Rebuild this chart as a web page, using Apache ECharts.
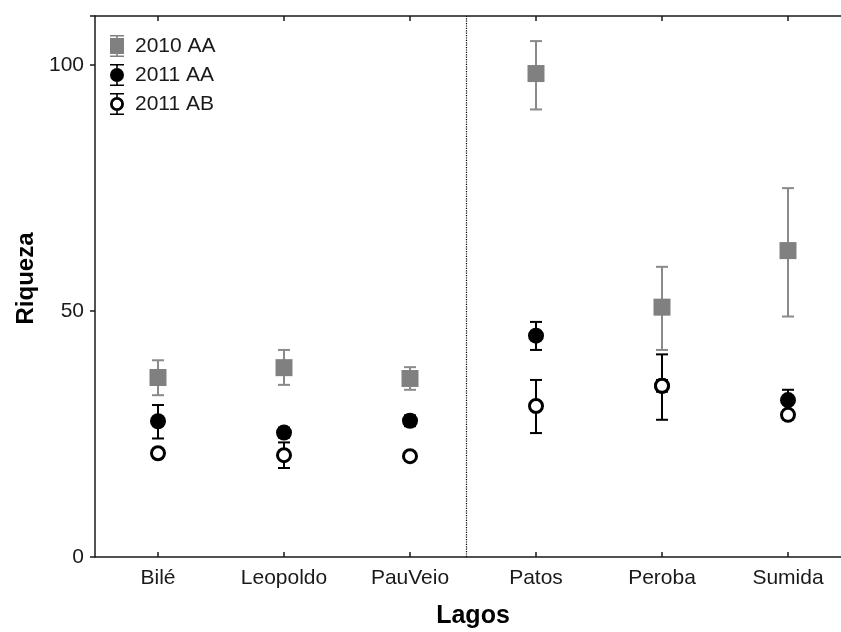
<!DOCTYPE html>
<html>
<head>
<meta charset="utf-8">
<script src="https://cdn.jsdelivr.net/npm/echarts@6/dist/echarts.min.js"></script>
<style>
html,body{margin:0;padding:0;background:#fff;}
#chart{width:841px;height:632px;}
</style>
</head>
<body>
<div id="chart"></div>
<script>
// ---- data ----
var categories = ['Bilé', 'Leopoldo', 'PauVeio', 'Patos', 'Peroba', 'Sumida'];
var catPositions = [1, 2, 3, 4, 5, 6];

var mean2010AA = [36.5, 38.5, 36.3, 98.3, 50.8, 62.3];
var low2010AA  = [32.9, 35.0, 34.0, 91.0, 42.1, 48.9];
var high2010AA = [40.0, 42.1, 38.6, 104.9, 59.0, 75.0];

var mean2011AA = [27.6, 25.3, 27.7, 45.0, 34.8, 31.9];
var low2011AA  = [24.1, 24.3, 26.6, 42.1, 33.6, 29.8];
var high2011AA = [30.9, 26.3, 28.8, 47.8, 36.0, 34.0];

var mean2011AB = [21.1, 20.7, 20.5, 30.7, 34.8, 28.9];
var low2011AB  = [20.2, 18.1, 19.7, 25.2, 27.9, 28.0];
var high2011AB = [22.0, 23.3, 21.3, 36.0, 41.2, 29.8];

var seriesNames = ['2010 AA', '2011 AA', '2011 AB'];
var yTicks = [0, 50, 100];
var dividerX = 3.45;

// ---- styling ----
var GRAY = '#808080';
var GRAY_BAR = '#8a8a8a';
var BLACK = '#000000';
var FONT = '"Liberation Sans", Arial, sans-serif';

function pts(means) { return catPositions.map(function (x, i) { return [x, means[i]]; }); }
function bars(lo, hi) { return catPositions.map(function (x, i) { return [x, lo[i], hi[i]]; }); }

function errRender(color) {
  return function (params, api) {
    var x = api.value(0), lo = api.value(1), hi = api.value(2);
    var a = api.coord([x, lo]), b = api.coord([x, hi]);
    var hw = 6;
    var st = { stroke: color, lineWidth: 2 };
    return {
      type: 'group',
      children: [
        { type: 'line', shape: { x1: a[0], y1: a[1], x2: b[0], y2: b[1] }, style: st },
        { type: 'line', shape: { x1: a[0] - hw, y1: a[1], x2: a[0] + hw, y2: a[1] }, style: st },
        { type: 'line', shape: { x1: b[0] - hw, y1: b[1], x2: b[0] + hw, y2: b[1] }, style: st }
      ]
    };
  };
}

var capsPath = 'M2 0 H16 V1.6 H2 Z M2 20.4 H16 V22 H2 Z ';
var icon2010 = 'path://' + capsPath + 'M8.2 0 H9.8 V22 H8.2 Z M2 3 H16 V19 H2 Z';
var iconAA = 'path://' + capsPath + 'M8.2 0 H9.8 V22 H8.2 Z M2 11 A7 7 0 1 1 16 11 A7 7 0 1 1 2 11 Z';
var iconAB = 'path://' + capsPath + 'M8.2 0 H9.8 V4.6 H8.2 Z M8.2 17.4 H9.8 V22 H8.2 Z ' +
  'M2 11 A7 7 0 1 1 16 11 A7 7 0 1 1 2 11 Z M4.8 11 A4.2 4.2 0 1 0 13.2 11 A4.2 4.2 0 1 0 4.8 11 Z';

var chart = echarts.init(document.getElementById('chart'), null, { renderer: 'canvas' });

var xCommon = {
  type: 'value', min: 0.5, max: 6.5,
  splitLine: { show: false },
  axisLine: { show: true, onZero: false, lineStyle: { color: '#1a1a1a', width: 1.5 } }
};

chart.setOption({
  animation: false,
  backgroundColor: '#fff',
  textStyle: { fontFamily: FONT },
  grid: { left: 95, width: 756, top: 16, bottom: 75, containLabel: false, outerBoundsMode: 'none' },
  legend: {
    left: 105, top: 30, orient: 'vertical',
    itemWidth: 26, itemHeight: 22, itemGap: 7,
    textStyle: { fontSize: 21, color: '#1a1a1a', fontFamily: FONT },
    itemStyle: { borderWidth: 0 },
    data: [
      { name: seriesNames[0], icon: icon2010, itemStyle: { color: GRAY, borderWidth: 0 } },
      { name: seriesNames[1], icon: iconAA, itemStyle: { color: BLACK, borderWidth: 0 } },
      { name: seriesNames[2], icon: iconAB, itemStyle: { color: BLACK, borderWidth: 0 } }
    ]
  },
  xAxis: [
    Object.assign({}, xCommon, {
      position: 'bottom',
      name: 'Lagos', nameLocation: 'middle', nameGap: 47,
      nameTextStyle: { fontSize: 25, fontWeight: 'bold', color: '#000', fontFamily: FONT },
      axisTick: { show: true, inside: true, length: 5, customValues: catPositions, lineStyle: { color: '#1a1a1a', width: 1.5 } },
      axisLabel: {
        show: true, margin: 11, fontSize: 21, color: '#1a1a1a', fontFamily: FONT,
        customValues: catPositions,
        formatter: function (v) { return categories[Math.round(v) - 1] || ''; }
      }
    }),
    Object.assign({}, xCommon, {
      position: 'top',
      axisTick: { show: true, inside: true, length: 5, customValues: catPositions, lineStyle: { color: '#1a1a1a', width: 1.5 } },
      axisLabel: { show: false }
    })
  ],
  yAxis: {
    type: 'value', min: 0, max: 110, interval: 50,
    splitLine: { show: false },
    name: 'Riqueza', nameLocation: 'middle', nameGap: 57,
    nameTextStyle: { fontSize: 24, fontWeight: 'bold', color: '#000', fontFamily: FONT, padding: [0, 0, 0, 16] },
    axisLine: { show: true, lineStyle: { color: '#1a1a1a', width: 1.5 } },
    axisTick: { show: true, inside: false, length: 5, lineStyle: { color: '#1a1a1a', width: 1.5 } },
    axisLabel: {
      margin: 11, fontSize: 21, color: '#1a1a1a', fontFamily: FONT,
      formatter: function (v) { return yTicks.indexOf(v) >= 0 ? String(v) : ''; }
    }
  },
  series: [
    {
      name: 'divider', type: 'scatter', data: [], silent: true,
      markLine: {
        silent: true, symbol: 'none', animation: false,
        label: { show: false },
        lineStyle: { color: '#000', type: 'dotted', width: 1.2 },
        data: [{ xAxis: dividerX }]
      }
    },
    {
      name: 'err2010', type: 'custom', renderItem: errRender(GRAY_BAR),
      data: bars(low2010AA, high2010AA), encode: { x: 0, y: [1, 2] }, silent: true, z: 2
    },
    {
      name: seriesNames[0], type: 'scatter', symbol: 'rect', symbolSize: 17,
      data: pts(mean2010AA), itemStyle: { color: GRAY, opacity: 1 }, z: 3, silent: true
    },
    {
      name: 'errAA', type: 'custom', renderItem: errRender(BLACK),
      data: bars(low2011AA, high2011AA), encode: { x: 0, y: [1, 2] }, silent: true, z: 4
    },
    {
      name: seriesNames[1], type: 'scatter', symbol: 'circle', symbolSize: 16,
      data: pts(mean2011AA), itemStyle: { color: BLACK, opacity: 1 }, z: 5, silent: true
    },
    {
      name: 'errAB', type: 'custom', renderItem: errRender(BLACK),
      data: bars(low2011AB, high2011AB), encode: { x: 0, y: [1, 2] }, silent: true, z: 6
    },
    {
      name: seriesNames[2], type: 'scatter', symbol: 'circle', symbolSize: 13,
      data: pts(mean2011AB), itemStyle: { color: '#fff', borderColor: BLACK, borderWidth: 3, opacity: 1 }, z: 7, silent: true
    }
  ]
});
</script>
</body>
</html>
